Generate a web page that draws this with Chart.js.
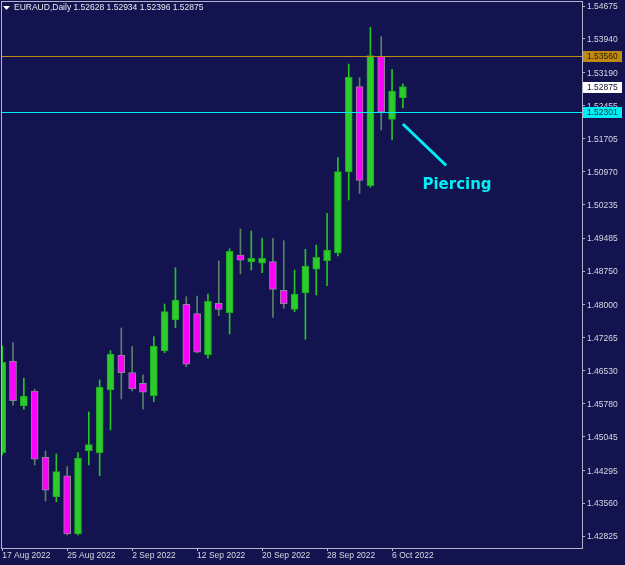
<!DOCTYPE html>
<html><head><meta charset="utf-8">
<script src="https://cdn.jsdelivr.net/npm/chart.js@4"></script>
<style>html,body{margin:0;padding:0;background:#13134f;}canvas{display:block;}</style>
</head><body>
<canvas id="c" width="625" height="565"></canvas>
<script>
const dates = ['17 Aug 2022','18 Aug 2022','19 Aug 2022','22 Aug 2022','23 Aug 2022','24 Aug 2022','25 Aug 2022','26 Aug 2022','29 Aug 2022','30 Aug 2022','31 Aug 2022','1 Sep 2022','2 Sep 2022','5 Sep 2022','6 Sep 2022','7 Sep 2022','8 Sep 2022','9 Sep 2022','12 Sep 2022','13 Sep 2022','14 Sep 2022','15 Sep 2022','16 Sep 2022','19 Sep 2022','20 Sep 2022','21 Sep 2022','22 Sep 2022','23 Sep 2022','26 Sep 2022','27 Sep 2022','28 Sep 2022','29 Sep 2022','30 Sep 2022','3 Oct 2022','4 Oct 2022','5 Oct 2022','6 Oct 2022','7 Oct 2022'];
const opens  = [1.44688,1.46739,1.45733,1.46068,1.44586,1.43705,1.44168,1.42871,1.44733,1.44688,1.46090,1.46873,1.46477,1.46240,1.45963,1.46962,1.47655,1.48006,1.47796,1.46879,1.48028,1.47818,1.49108,1.48952,1.48923,1.48959,1.48319,1.47894,1.48259,1.48789,1.48981,1.49153,1.50964,1.52871,1.50658,1.53550,1.52142,1.52628];
const highs  = [1.47074,1.47148,1.46352,1.46106,1.44727,1.44660,1.44376,1.44688,1.45598,1.46314,1.46969,1.47476,1.47058,1.46426,1.47282,1.48013,1.48824,1.48176,1.48192,1.48236,1.48974,1.49249,1.49690,1.49645,1.49488,1.49482,1.49428,1.48773,1.49236,1.49332,1.50041,1.51284,1.53378,1.53072,1.54199,1.53989,1.53260,1.52934];
const lows   = [1.44637,1.45748,1.45659,1.44414,1.43609,1.43593,1.42849,1.42849,1.44414,1.44174,1.45196,1.45889,1.46068,1.45659,1.45829,1.46924,1.47483,1.46611,1.46920,1.46799,1.47751,1.47342,1.48684,1.48773,1.48713,1.47715,1.47917,1.47841,1.47224,1.48214,1.48422,1.49086,1.50338,1.50488,1.50622,1.51903,1.51679,1.52396];
const closes = [1.46716,1.45851,1.45956,1.44541,1.43848,1.44264,1.42871,1.44570,1.44868,1.46151,1.46895,1.46477,1.46113,1.46039,1.47074,1.47841,1.48102,1.46665,1.46933,1.48073,1.47894,1.49191,1.48990,1.49034,1.49034,1.48341,1.48019,1.48236,1.48862,1.49057,1.49220,1.50971,1.53088,1.50778,1.53564,1.52305,1.52775,1.52875];
const xTickIndex = [0,6,12,18,24,30,36];
const yTickValues = [1.54675,1.53940,1.53190,1.52455,1.51705,1.50970,1.50235,1.49485,1.48750,1.48000,1.47265,1.46530,1.45780,1.45045,1.44295,1.43560,1.42825];
const levelPrices = [1.53560, 1.52301];
const bidPrice = 1.52875;
const symbolTitle = 'EURAUD,Daily';
const headerValues = ['1.52628','1.52934','1.52396','1.52875'];
const arrowPoints = [[37.0, 1.52037],[41.0, 1.51109]];
const noteLabel = 'Piercing';
const notePoint = [42.0, 1.50673];

const BG = '#13134f', FRAME = '#b4b4c8', TXT = '#d8d8e2';
const UP = '#2bcc2b', UPB = '#20a820', DN = '#ff00ff', DNB = '#8a8a96';
const UPW = '#22c522', DNW = '#5a8068';
const LVL = ['#c08a10', '#00eef5'];
const FONT = '"Liberation Sans", Arial, sans-serif';

const isUp = opens.map((o,i)=>closes[i]>=o);
const wickData = dates.map((d,i)=>({x:i, y:[lows[i], highs[i]]}));
const bodyData = dates.map((d,i)=>({x:i, y:[Math.min(opens[i],closes[i]), Math.max(opens[i],closes[i])]}));

const deco = {
  id:'deco',
  beforeDraw(chart){
    const c = chart.ctx; c.save(); c.fillStyle = BG; c.fillRect(0,0,chart.width,chart.height); c.restore();
  },
  afterDatasetsDraw(chart){
    const c = chart.ctx, a = chart.chartArea, ys = chart.scales.y, xs = chart.scales.x;
    c.save();
    c.beginPath(); c.rect(a.left, a.top, a.right-a.left, a.bottom-a.top); c.clip();
    for (let k = 0; k < levelPrices.length; k++) {
      const y = Math.round(ys.getPixelForValue(levelPrices[k]));
      c.fillStyle = LVL[k];
      c.fillRect(a.left, y, a.right - a.left, 1);
    }
    c.strokeStyle = LVL[1]; c.lineWidth = 3; c.lineCap = 'butt';
    c.beginPath();
    c.moveTo(xs.getPixelForValue(arrowPoints[0][0]), ys.getPixelForValue(arrowPoints[0][1]));
    c.lineTo(xs.getPixelForValue(arrowPoints[1][0]), ys.getPixelForValue(arrowPoints[1][1]));
    c.stroke();
    c.fillStyle = LVL[1]; c.font = 'bold 15px "DejaVu Sans", sans-serif';
    c.textAlign = 'center'; c.textBaseline = 'middle';
    c.fillText(noteLabel, xs.getPixelForValue(notePoint[0]), ys.getPixelForValue(notePoint[1]));
    c.restore();
    c.save();
    c.fillStyle = FRAME;
    c.fillRect(a.left, a.top, a.right - a.left, 1);
    c.fillRect(a.left, a.top, 1, a.bottom - a.top);
    c.fillStyle = '#ffffff';
    c.beginPath(); c.moveTo(3,6); c.lineTo(10,6); c.lineTo(6.5,10); c.closePath(); c.fill();
    c.fillStyle = '#e8e8ee'; c.font = '8.5px ' + FONT; c.textAlign = 'left'; c.textBaseline = 'middle';
    c.fillText(symbolTitle + ' ' + headerValues.join(' '), 14, 8);
    c.restore();
  },
  afterDraw(chart){
    const c = chart.ctx, a = chart.chartArea, ys = chart.scales.y;
    c.save();
    const boxes = [[levelPrices[0], LVL[0], '#2a2000'], [bidPrice, '#ffffff', '#101030'], [levelPrices[1], LVL[1], '#003a40']];
    c.font = '8.5px ' + FONT; c.textAlign = 'left'; c.textBaseline = 'middle';
    boxes.forEach(([p, bg, fg])=>{
      const y = Math.round(ys.getPixelForValue(p));
      c.fillStyle = bg; c.fillRect(a.right+1, y-5, 39, 11);
      c.fillStyle = fg; c.fillText(p.toFixed(5), a.right+5, y+1);
    });
    c.restore();
  }
};

new Chart(document.getElementById('c'), {
  type:'bar',
  data:{ datasets:[
    { label:'body', data: bodyData, order:0, grouped:false, barThickness:7,
      backgroundColor: isUp.map(u=>u?UP:DN), borderColor: isUp.map(u=>u?UPB:DNB), borderWidth:1, borderSkipped:false },
    { label:'wick', data: wickData, order:1, grouped:false, barThickness:1,
      backgroundColor: isUp.map(u=>u?UPW:DNW), borderWidth:0 }
  ]},
  options:{
    responsive:false, animation:false, devicePixelRatio:1,
    layout:{ padding:{ left:1, top:1, right:0, bottom:0 } },
    plugins:{ legend:{display:false}, tooltip:{enabled:false} },
    scales:{
      x:{ type:'linear', min:-0.11, max:53.54, offset:false,
        grid:{ display:true, drawOnChartArea:false, drawTicks:true, tickLength:3, color:FRAME, offset:false },
        border:{ display:true, color:FRAME, width:1 },
        afterBuildTicks:(s)=>{ s.ticks = xTickIndex.map(v=>({value:v})); },
        afterFit:(s)=>{ s.height = 17; s.paddingLeft = 0; s.paddingRight = 0; s.paddingTop = 0; s.paddingBottom = 0; },
        ticks:{ autoSkip:false, maxRotation:0, minRotation:0, align:'start', padding:0, color:TXT,
          font:{ family:FONT, size:8.5 }, callback:(v,i)=>dates[xTickIndex[i]] }
      },
      y:{ type:'linear', position:'right', min:1.42557, max:1.54787,
        grid:{ display:true, drawOnChartArea:false, drawTicks:true, tickLength:3, color:FRAME },
        border:{ display:true, color:FRAME, width:1 },
        afterBuildTicks:(s)=>{ s.ticks = yTickValues.map(v=>({value:v})); },
        afterFit:(s)=>{ s.width = 43; s.paddingTop = 0; s.paddingBottom = 0; s.paddingLeft = 0; s.paddingRight = 0; },
        ticks:{ autoSkip:false, padding:2, labelOffset:1, color:TXT, font:{ family:FONT, size:8.5 }, callback:(v)=>v.toFixed(5) }
      }
    }
  },
  plugins:[deco]
});
</script>
</body></html>
